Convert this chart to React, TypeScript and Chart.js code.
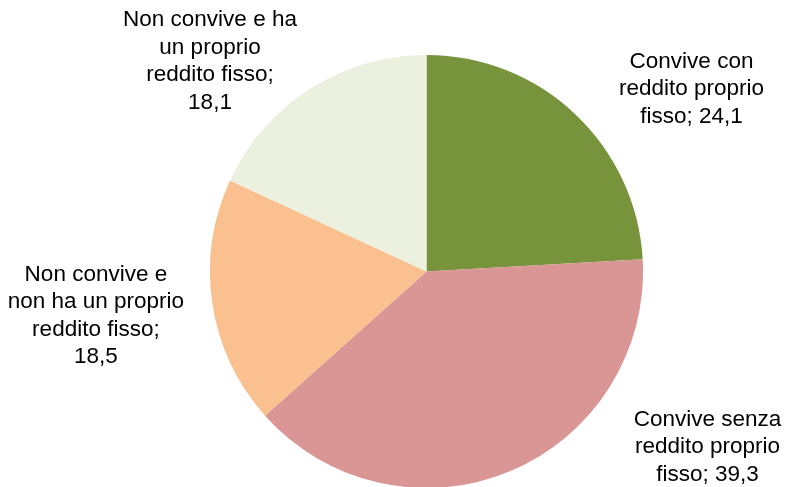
import React, { useEffect, useRef } from "react";
import { Chart, registerables } from "chart.js";

Chart.register(...registerables);

const categories: string[][] = [
  ["Convive con", "reddito proprio", "fisso; 24,1"],
  ["Convive senza", "reddito proprio", "fisso; 39,3"],
  ["Non convive e", "non ha un proprio", "reddito fisso;", "18,5"],
  ["Non convive e ha", "un proprio", "reddito fisso;", "18,1"],
];
const values: number[] = [24.1, 39.3, 18.5, 18.1];
const colors: string[] = ["#77933C", "#D99694", "#FAC090", "#EBF1DE"];

// label block centres, relative to the pie centre, in units of the pie radius
const labelOffsets: [number, number][] = [
  [1.224, -0.843],
  [1.298, 0.811],
  [-1.527, 0.2055],
  [-1.0, -0.972],
];

const labelPlugin = {
  id: "outerLabels",
  afterDatasetsDraw(chart: any) {
    const ctx = chart.ctx;
    const meta = chart.getDatasetMeta(0);
    const lh = 27.5;
    ctx.save();
    ctx.font = '22.5px "Liberation Sans", Arial, sans-serif';
    ctx.fillStyle = "#000";
    ctx.textAlign = "center";
    ctx.textBaseline = "middle";
    meta.data.forEach((arc: any, i: number) => {
      const { x, y, outerRadius } = arc.getProps(["x", "y", "outerRadius"], true);
      const [fx, fy] = labelOffsets[i];
      const cx = x + fx * outerRadius;
      const cy = y + fy * outerRadius;
      const lines = categories[i];
      const top = cy - ((lines.length - 1) * lh) / 2;
      lines.forEach((ln, j) => ctx.fillText(ln, cx, top + j * lh));
    });
    ctx.restore();
  },
};

export default function App() {
  const ref = useRef<HTMLCanvasElement>(null);
  useEffect(() => {
    document.body.style.margin = "0";
    const chart = new Chart(ref.current!, {
      type: "pie",
      data: {
        labels: categories.map((c) => c.join(" ")),
        datasets: [
          {
            data: values,
            backgroundColor: colors,
            borderWidth: 0,
            radius: 216.5,
          } as any,
        ],
      },
      options: {
        responsive: false,
        animation: false,
        layout: { padding: { left: 68, right: 0, top: 56, bottom: 0 } },
        plugins: { legend: { display: false }, tooltip: { enabled: false } },
        events: [],
      },
      plugins: [labelPlugin],
    });
    return () => chart.destroy();
  }, []);
  return (
    <div style={{ width: 785, height: 487 }}>
      <canvas ref={ref} width={785} height={487} style={{ display: "block" }} />
    </div>
  );
}
